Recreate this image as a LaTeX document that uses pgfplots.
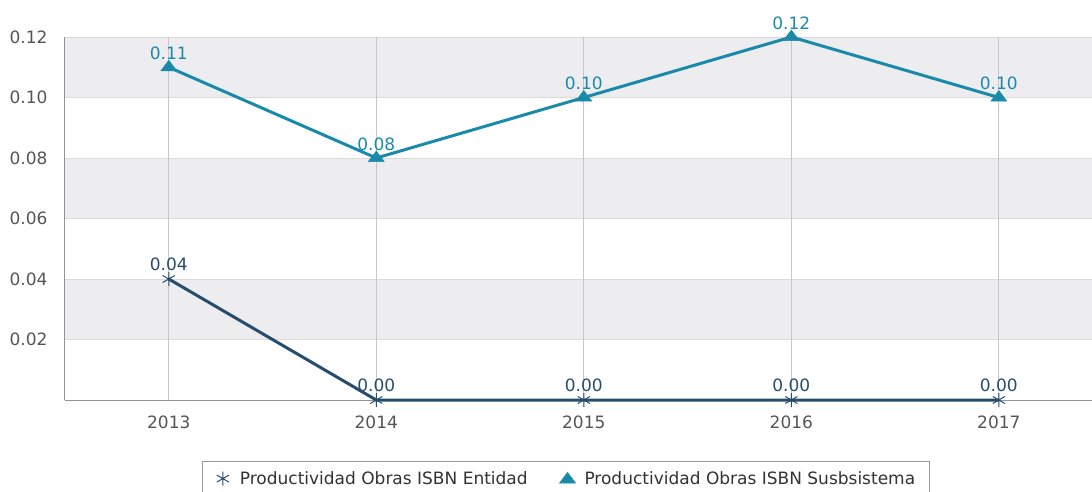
\documentclass[border=0pt]{standalone}
\usepackage{pgfplots}
\pgfplotsset{compat=1.18}
\usepackage{fontspec}
\setmainfont{DejaVu Sans}
\definecolor{navy}{HTML}{264D6E}
\definecolor{teal2}{HTML}{1A8AAB}
\definecolor{band}{HTML}{EDEDEF}
\definecolor{hgrid}{HTML}{DADADA}
\definecolor{vgrid}{HTML}{C6C6C6}
\definecolor{ticktext}{HTML}{555555}
\definecolor{legtext}{HTML}{333333}
\begin{document}
\begin{tikzpicture}[x=1pt,y=1pt]
\begin{axis}[
  scale only axis,
  width=1027pt, height=363pt,
  at={(0,0)}, anchor=south west,
  xmin=2012.5, xmax=2017.449,
  ymin=0, ymax=0.12,
  axis lines*=left,
  axis line style={draw=gray!85, line width=1pt},
  xtick={2013,2014,2015,2016,2017},
  xticklabels={2013,2014,2015,2016,2017},
  ytick={0.02,0.04,0.06,0.08,0.10,0.12},
  major tick length=0pt,
  /pgf/number format/assume math mode=true,
  yticklabel={\pgfmathprintnumber[fixed,fixed zerofill,precision=2]{\tick}},
  ticklabel style={font=\fontsize{17}{20}\selectfont, text=ticktext},
  yticklabel style={xshift=-14pt},
  xticklabel style={yshift=-12pt},
  clip=false,
  legend style={at={(0.4878,-0.168)}, anchor=north, legend columns=2,
    draw=gray!80, line width=0.8pt, font=\fontsize{17}{20}\selectfont, text=legtext,
    nodes={inner xsep=0pt, inner ysep=2pt},
    /tikz/every odd column/.append style={column sep=0pt},
    /tikz/every even column/.append style={column sep=32pt},
    inner xsep=14pt, inner ysep=8pt},
]
% bands and grid
\fill[band] (axis cs:2012.5,0.02) rectangle (axis cs:2017.449,0.04);
\fill[band] (axis cs:2012.5,0.06) rectangle (axis cs:2017.449,0.08);
\fill[band] (axis cs:2012.5,0.10) rectangle (axis cs:2017.449,0.12);
\pgfplotsinvokeforeach{0.02,0.04,0.06,0.08,0.10,0.12}{
  \draw[hgrid, line width=1pt] (axis cs:2012.5,#1) -- (axis cs:2017.449,#1);
}
\pgfplotsinvokeforeach{2013,2014,2015,2016,2017}{
  \draw[vgrid, line width=1pt] (axis cs:#1,0) -- (axis cs:#1,0.12);
}
\addlegendimage{legend image code/.code={
  \path[draw=none, fill=none] (-5pt,-6pt) rectangle (17pt,6pt);
  \draw[navy, line width=1pt, only marks, mark=asterisk, mark size=7pt] plot coordinates {(0pt,0pt)};}}
\addlegendentry{Productividad Obras ISBN Entidad}
\addlegendimage{legend image code/.code={
  \path[draw=none, fill=none] (-5pt,-6pt) rectangle (17pt,6pt);
  \draw[teal2, only marks, mark=triangle*, mark size=7pt, mark options={xscale=1.3}] plot coordinates {(0pt,-1pt)};}}
\addlegendentry{Productividad Obras ISBN Susbsistema}
\addplot[forget plot, color=navy, line width=3pt, mark=asterisk, mark size=7pt,
  mark options={line width=1pt},
  nodes near coords={\pgfmathprintnumber[fixed,fixed zerofill,precision=2]{\pgfplotspointmeta}},
  every node near coord/.append style={font=\fontsize{17}{20}\selectfont, text=navy, yshift=4pt}]
  coordinates {(2013,0.04) (2014,0.00) (2015,0.00) (2016,0.00) (2017,0.00)};
\addplot[forget plot, color=teal2, line width=3pt, mark=triangle*, mark size=7pt,
  mark options={line width=0.5pt, xscale=1.3},
  nodes near coords={\pgfmathprintnumber[fixed,fixed zerofill,precision=2]{\pgfplotspointmeta}},
  every node near coord/.append style={font=\fontsize{17}{20}\selectfont, text=teal2, yshift=4pt}]
  coordinates {(2013,0.11) (2014,0.08) (2015,0.10) (2016,0.12) (2017,0.10)};
\end{axis}
\pgfresetboundingbox
\path[use as bounding box] (-65,-91) rectangle (1027,400);
\end{tikzpicture}
\end{document}
